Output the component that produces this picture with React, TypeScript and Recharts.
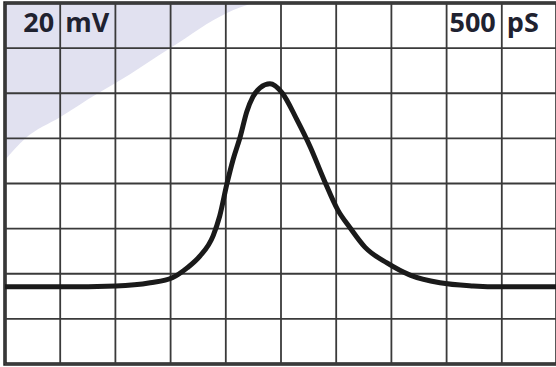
import React from "react";
import {
  ComposedChart,
  Line,
  Area,
  XAxis,
  YAxis,
  ReferenceLine,
  ReferenceArea,
  ReferenceDot,
} from "recharts";

// Trace, in screen divisions (x: 0..10, y: 0..8 from the bottom)
const traceX = [0, 1, 2.01, 2.63, 3.03, 3.3, 3.53, 3.77, 3.89, 4.02, 4.13, 4.26, 4.38, 4.49, 4.62, 4.8, 5.02, 5.29, 5.53, 5.78, 6.03, 6.25, 6.52, 6.92, 7.34, 7.88, 8.48, 9, 10];
const traceY = [1.71, 1.71, 1.73, 1.8, 1.91, 2.13, 2.39, 2.84, 3.28, 3.99, 4.52, 5.03, 5.59, 5.92, 6.12, 6.21, 6.01, 5.41, 4.81, 4.08, 3.41, 3.02, 2.59, 2.24, 1.97, 1.8, 1.73, 1.71, 1.71];

// Edge of the shaded corner
const shadeX = [0, 0.36, 1.01, 1.67, 2.01, 3.03, 4.02, 4.49];
const shadeY = [4.52, 4.99, 5.48, 5.99, 6.23, 7.03, 7.78, 8.0];

const xTicks = [0, 1, 2, 3, 4, 5, 6, 7, 8, 9, 10];
const yTicks = [0, 1, 2, 3, 4, 5, 6, 7, 8];

const leftLabels = ["20", "mV"];
const rightLabels = ["500", "pS"];

function mergeData() {
  const map = new Map<number, Record<string, number>>();
  traceX.forEach((x, i) => {
    const p = map.get(x) || { x };
    p.trace = traceY[i];
    map.set(x, p);
  });
  shadeX.forEach((x, i) => {
    const p = map.get(x) || { x };
    p.shade = shadeY[i];
    map.set(x, p);
  });
  return Array.from(map.values()).sort((a, b) => a.x - b.x);
}

const chartData = mergeData();

const INK = "#1a1a1a";
const GRID = "#3a3a3a";
const SHADE = "#e1e1f0";
const TEXT = "#1f2230";

function ScaleText({ viewBox, value, anchor }: any) {
  if (!viewBox) return null;
  const x = viewBox.x + (anchor === "end" ? -6 : 5);
  return (
    <text
      x={x}
      y={viewBox.y + 29}
      textAnchor={anchor}
      fill={TEXT}
      fontFamily="'Open Sans', sans-serif"
      fontWeight={700}
      fontSize={27}
    >
      {value}
    </text>
  );
}

export default function App() {
  return (
    <div style={{ position: "absolute", left: 0, top: 0, width: 556, height: 367, overflow: "hidden", background: "#fff" }}>
      <ComposedChart
        width={560}
        height={367}
        data={chartData}
        margin={{ top: 3, right: 3, bottom: 3, left: 5 }}
      >
        <XAxis dataKey="x" type="number" domain={[0, 10]} hide allowDataOverflow />
        <YAxis type="number" domain={[0, 8]} hide allowDataOverflow />

        <Area
          dataKey="shade"
          type="monotone"
          baseValue={8}
          fill={SHADE}
          fillOpacity={1}
          stroke="none"
          connectNulls
          dot={false}
          activeDot={false}
          isAnimationActive={false}
        />

        {xTicks.map((t) => (
          <ReferenceLine key={"x" + t} x={t} stroke={GRID} strokeWidth={1.8} />
        ))}
        {yTicks.map((t) => (
          <ReferenceLine key={"y" + t} y={t} stroke={GRID} strokeWidth={1.8} />
        ))}

        <ReferenceArea x1={0} x2={10} y1={0} y2={8} fill="none" stroke="#222" strokeWidth={3.5} />

        <Line
          dataKey="trace"
          type="monotone"
          stroke={INK}
          strokeWidth={5}
          dot={false}
          activeDot={false}
          connectNulls
          isAnimationActive={false}
        />

        <ReferenceDot x={1} y={8} r={0} stroke="none" label={<ScaleText value={leftLabels[0]} anchor="end" />} />
        <ReferenceDot x={1} y={8} r={0} stroke="none" label={<ScaleText value={leftLabels[1]} anchor="start" />} />
        <ReferenceDot x={9} y={8} r={0} stroke="none" label={<ScaleText value={rightLabels[0]} anchor="end" />} />
        <ReferenceDot x={9} y={8} r={0} stroke="none" label={<ScaleText value={rightLabels[1]} anchor="start" />} />
      </ComposedChart>
    </div>
  );
}
